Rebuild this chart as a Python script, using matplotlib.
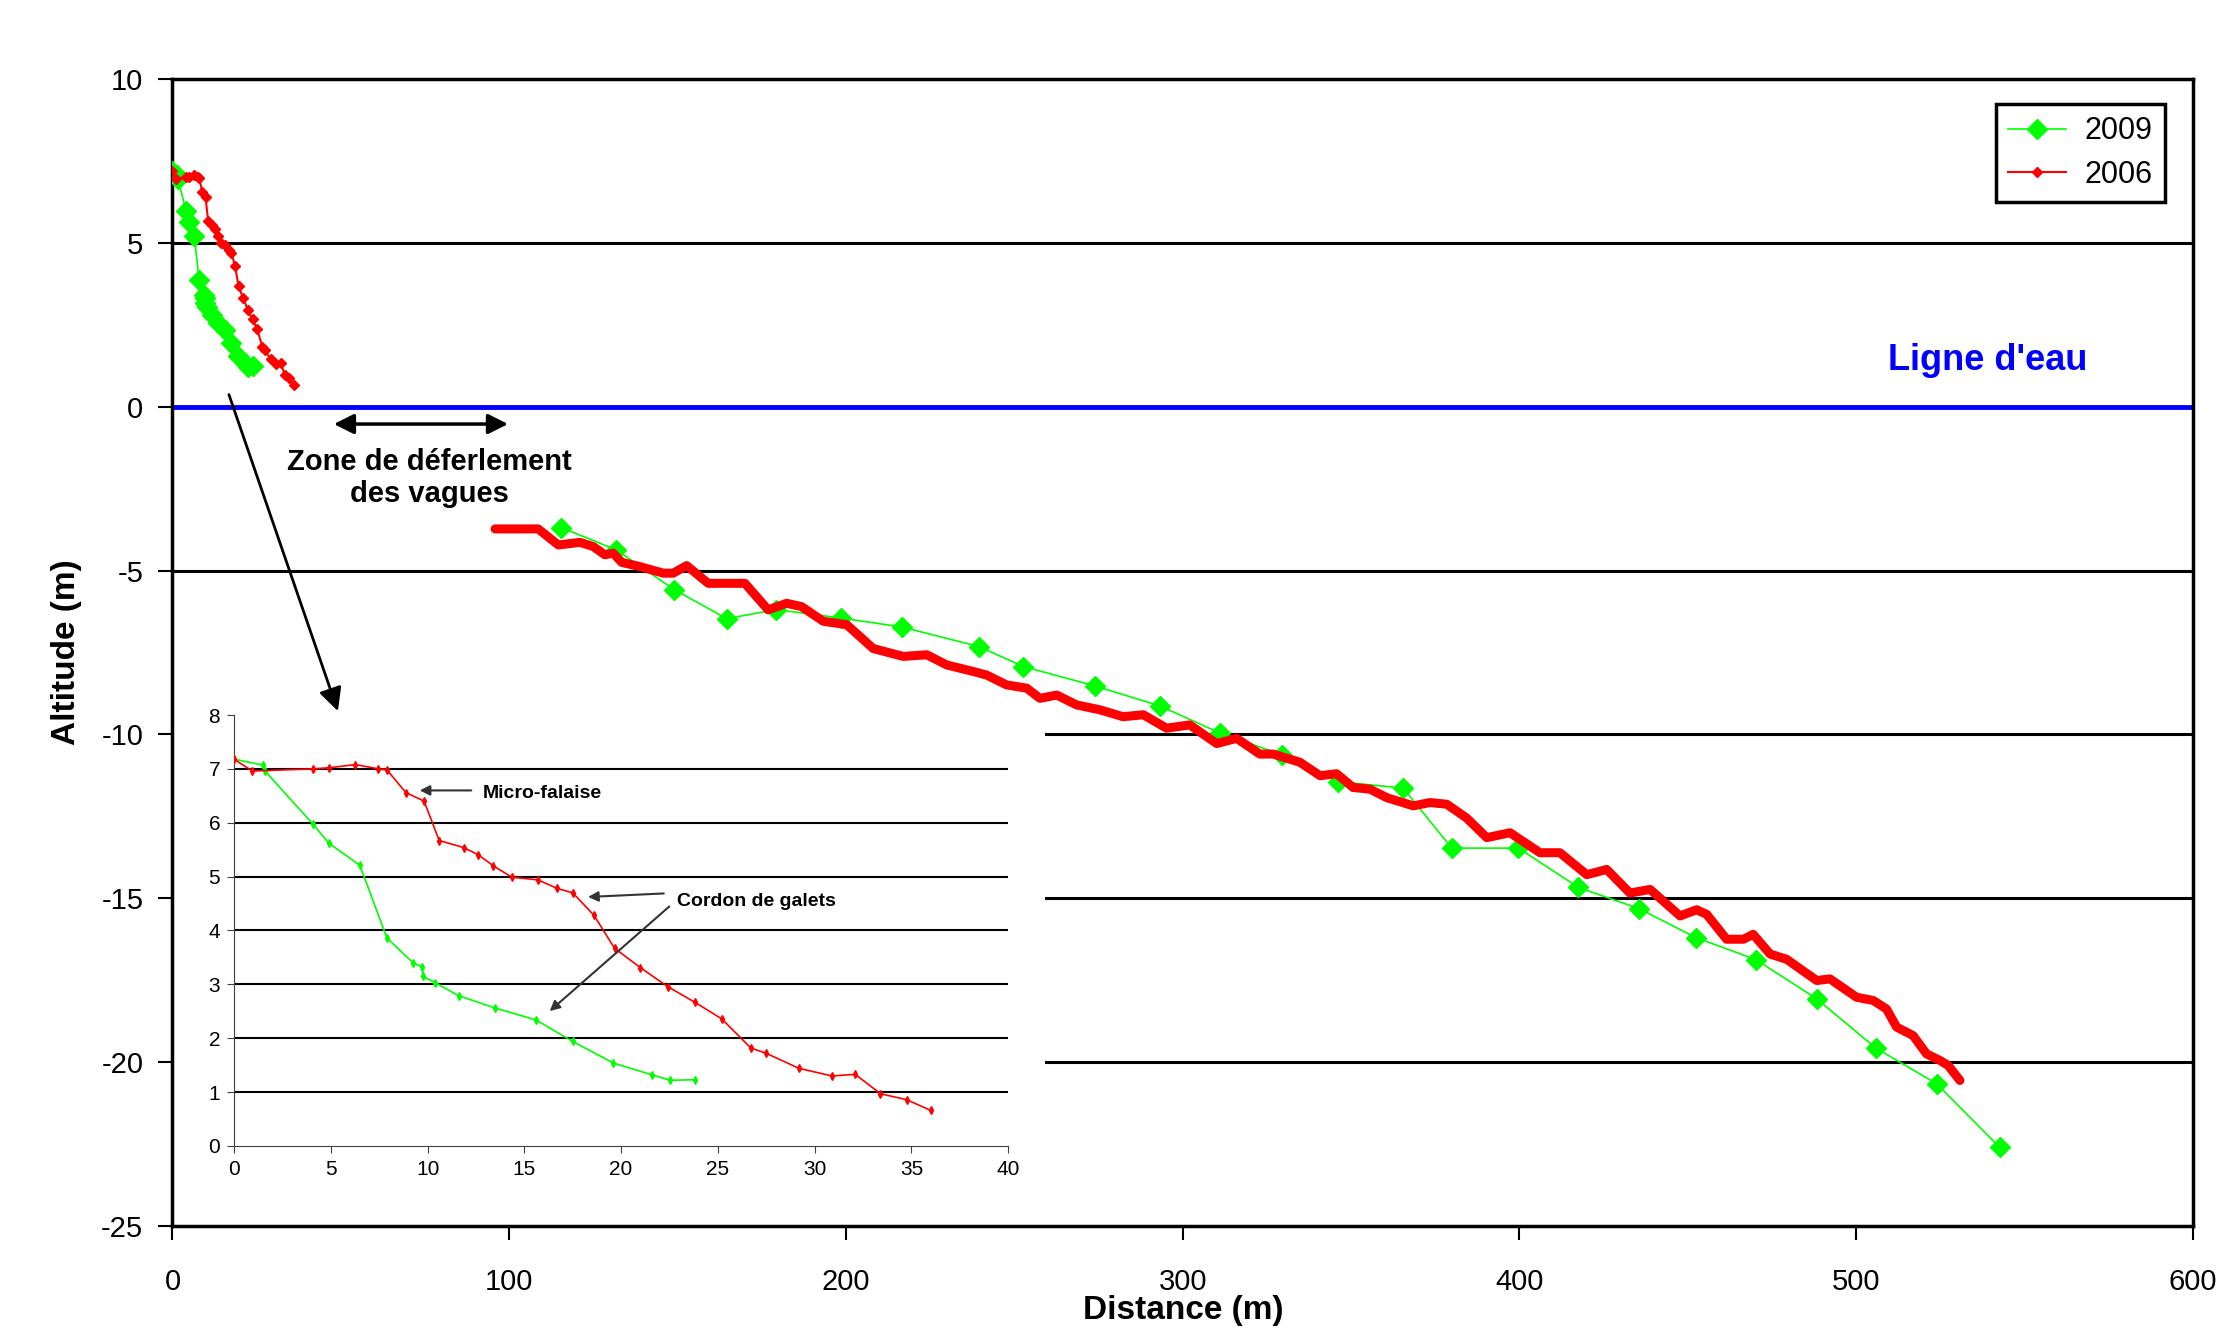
import numpy as np
import matplotlib
matplotlib.use("Agg")
import matplotlib.pyplot as plt
from matplotlib.patches import Rectangle

plt.rcParams['font.family'] = ['Liberation Sans', 'DejaVu Sans']
plt.rcParams['axes.unicode_minus'] = False

# beach profile (0 - 36 m), also shown in the zoomed inset
near_x_2009 = [0, 1.5, 1.6, 4.06, 4.9, 6.5, 7.9, 9.25, 9.73, 9.76, 10.4, 11.6, 13.5,
               15.6, 17.5, 19.6, 21.6, 22.55, 23.8]
near_y_2009 = [7.18, 7.07, 6.96, 5.98, 5.62, 5.21, 3.86, 3.40, 3.32, 3.15, 3.03, 2.79, 2.56,
               2.34, 1.94, 1.54, 1.32, 1.22, 1.23]

near_x_2006 = [0, 0.94, 4.06, 4.9, 6.27, 7.46, 7.9, 8.88, 9.82, 10.6, 11.86, 12.6, 13.4,
               14.35, 15.7, 16.7, 17.5, 18.6, 19.66, 21.0, 22.4, 23.8, 25.2, 26.7, 27.5,
               29.2, 30.9, 32.1, 33.4, 34.75, 36.0]
near_y_2006 = [7.18, 6.96, 7.0, 7.02, 7.08, 7.0, 6.98, 6.56, 6.40, 5.67, 5.54, 5.41, 5.20,
               4.99, 4.94, 4.78, 4.70, 4.28, 3.67, 3.31, 2.96, 2.67, 2.36, 1.82, 1.72,
               1.44, 1.30, 1.33, 0.97, 0.86, 0.66]

# offshore profile
off_x_2009 = [115.5, 131.8, 149.0, 164.6, 179.3, 198.5, 216.5, 239.5, 252.7, 273.9, 293.2,
              311.1, 329.4, 346.2, 365.5, 379.9, 399.7, 417.5, 435.6, 452.4, 470.2, 488.3,
              505.8, 523.9, 542.6]
off_y_2009 = [-3.69, -4.37, -5.58, -6.47, -6.19, -6.45, -6.72, -7.32, -7.93, -8.52, -9.13,
              -9.96, -10.62, -11.44, -11.64, -13.47, -13.47, -14.67, -15.32, -16.20, -16.87,
              -18.07, -19.57, -20.66, -22.6]

off_x_2006 = [95.8, 108.6, 114.6, 121.0, 125.0, 128.4, 130.9, 133.4, 138.8, 145.8, 148.7,
              152.7, 159.1, 170.0, 176.9, 182.4, 186.8, 193.3, 200.2, 208.1, 217.0, 224.0,
              229.9, 237.8, 241.8, 247.7, 253.7, 257.6, 262.6, 268.5, 275.4, 282.3, 288.3,
              295.2, 302.1, 310.1, 316.0, 322.9, 326.9, 334.8, 340.8, 345.7, 350.6, 355.6,
              360.6, 368.5, 373.4, 378.4, 384.3, 390.3, 397.2, 406.1, 412.0, 420.0, 425.9,
              432.8, 438.8, 447.7, 452.6, 455.6, 461.5, 466.5, 469.4, 474.4, 479.3, 488.3,
              492.2, 500.1, 505.1, 509.0, 512.0, 516.9, 520.9, 524.9, 527.3, 530.8]
off_y_2006 = [-3.73, -3.73, -4.22, -4.14, -4.27, -4.52, -4.47, -4.75, -4.88, -5.08, -5.08,
              -4.85, -5.39, -5.39, -6.20, -6.00, -6.10, -6.55, -6.65, -7.38, -7.62, -7.57,
              -7.88, -8.08, -8.19, -8.49, -8.59, -8.90, -8.80, -9.10, -9.25, -9.46, -9.40,
              -9.81, -9.71, -10.28, -10.12, -10.60, -10.60, -10.85, -11.26, -11.20, -11.62,
              -11.67, -11.93, -12.18, -12.08, -12.13, -12.55, -13.15, -13.00, -13.61, -13.61,
              -14.28, -14.12, -14.84, -14.73, -15.54, -15.35, -15.49, -16.25, -16.25, -16.10,
              -16.70, -16.86, -17.51, -17.46, -18.02, -18.12, -18.38, -18.93, -19.19, -19.75,
              -19.95, -20.10, -20.56]

GREEN = '#00FF00'
RED = '#FF0000'

fig = plt.figure(figsize=(22.25, 13.29), dpi=100)
ax = fig.add_axes([0.0775, 0.0775, 0.9081, 0.8631])

for y in [5, -5, -10, -15, -20]:
    ax.axhline(y, color='black', lw=2.2, zorder=1)
ax.axhline(0, color='#0000FF', lw=3.5, zorder=1.5)

# white area behind the inset
ax.add_patch(Rectangle((0, -25), 259, 16.0, facecolor='white', edgecolor='none', zorder=2))

ax.plot(near_x_2009 + [np.nan] + off_x_2009, near_y_2009 + [np.nan] + off_y_2009,
        color=GREEN, lw=1.2, marker='D', ms=10, mec=GREEN, label='2009', zorder=4)
ax.plot(near_x_2006, near_y_2006, color=RED, lw=1.5, marker='D', ms=5.5, mec=RED,
        label='2006', zorder=5)
ax.plot(off_x_2006, off_y_2006, color=RED, lw=6.5, solid_joinstyle='round',
        solid_capstyle='round', zorder=5)

ax.set_xlim(0, 600)
ax.set_ylim(-25, 10)
ax.set_xticks(range(0, 601, 100))
ax.set_yticks(range(-25, 11, 5))
ax.tick_params(axis='x', direction='out', length=10, width=1.5, labelsize=21, pad=20)
ax.tick_params(axis='y', direction='out', length=10, width=1.5, labelsize=21, pad=11)
for s in ax.spines.values():
    s.set_linewidth(2.5)

ax.set_ylabel('Altitude (m)', fontsize=24, fontweight='bold')
ax.yaxis.set_label_coords(-0.045, 0.5)
fig.text(0.532, 0.002, 'Distance (m)', fontsize=24, fontweight='bold',
         ha='center', va='bottom')

leg = ax.legend(loc='upper right', bbox_to_anchor=(0.986, 0.978), borderaxespad=0,
                fancybox=False, edgecolor='black', framealpha=1, fontsize=22,
                handlelength=1.9, handletextpad=0.6, borderpad=0.4, labelspacing=0.45)
leg.get_frame().set_linewidth(2.5)

ax.text(539, 1.4, "Ligne d'eau", color='#0000FF', fontsize=26, fontweight='bold',
        ha='center', va='center')
ax.text(76.2, -2.18, 'Zone de déferlement\ndes vagues', fontsize=21, fontweight='bold',
        ha='center', va='center', linespacing=1.15)
ax.annotate('', xy=(100.5, -0.53), xytext=(47.1, -0.53),
            arrowprops=dict(arrowstyle='<|-|>', color='black', lw=2.5, mutation_scale=30))
ax.annotate('', xy=(49.4, -9.37), xytext=(16.5, 0.45), zorder=10,
            arrowprops=dict(arrowstyle='-|>', color='black', lw=2, mutation_scale=35))

# inset zoom on the upper beach
axin = fig.add_axes([0.1052, 0.1377, 0.3479, 0.3243])
axin.set_facecolor('none')
for y in range(1, 8):
    axin.axhline(y, color='black', lw=1.5, zorder=1)
axin.plot(near_x_2009, near_y_2009, color=GREEN, lw=1.2, marker='d', ms=4, zorder=3)
axin.plot(near_x_2006, near_y_2006, color=RED, lw=1.2, marker='d', ms=4, zorder=3)
axin.set_xlim(0, 40)
axin.set_ylim(0, 8)
axin.set_xticks(range(0, 41, 5))
axin.set_yticks(range(0, 9))
axin.spines['top'].set_visible(False)
axin.spines['right'].set_visible(False)
axin.spines['left'].set_color('#404040')
axin.spines['bottom'].set_color('#404040')
axin.tick_params(direction='out', length=5, labelsize=15, pad=5, color='#404040')

axin.text(12.85, 6.55, 'Micro-falaise', fontsize=14, fontweight='bold', ha='left', va='center')
axin.annotate('', xy=(9.45, 6.6), xytext=(12.4, 6.6),
              arrowprops=dict(arrowstyle='-|>', color='#333333', lw=1.5, mutation_scale=15))
axin.text(22.9, 4.54, 'Cordon de galets', fontsize=14, fontweight='bold', ha='left', va='center')
axin.annotate('', xy=(18.15, 4.62), xytext=(22.35, 4.69),
              arrowprops=dict(arrowstyle='-|>', color='#333333', lw=1.5, mutation_scale=15))
axin.annotate('', xy=(16.2, 2.47), xytext=(22.6, 4.48),
              arrowprops=dict(arrowstyle='-|>', color='#333333', lw=1.5, mutation_scale=15))

fig.savefig('out.png', dpi=100)
